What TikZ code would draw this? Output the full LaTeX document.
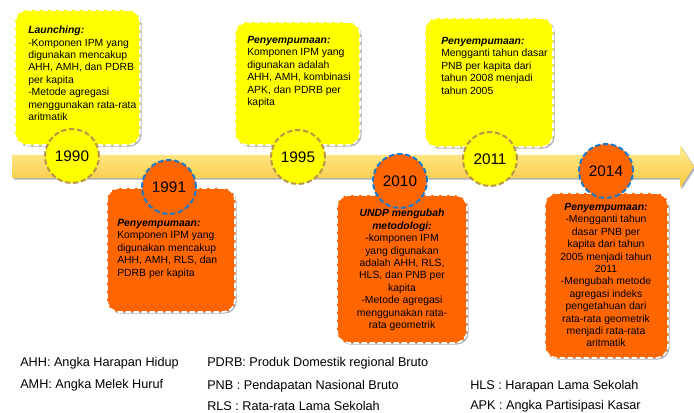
\documentclass[tikz,border=0pt]{standalone}
\usepackage{fontspec}
\setmainfont{Liberation Sans}
\usetikzlibrary{fit,shadows}
\definecolor{ipmkuning}{RGB}{255,255,0}
\definecolor{ipmoranye}{RGB}{255,102,0}
\definecolor{ipmemas}{RGB}{184,150,70}
\definecolor{ipmbiru}{RGB}{30,120,200}
\definecolor{pitaatas}{RGB}{255,238,150}
\definecolor{pitabawah}{RGB}{248,198,60}
\begin{document}
\begin{tikzpicture}[x=0.75pt,y=-0.75pt,
  bayang/.style={drop shadow={shadow xshift=1.2pt, shadow yshift=-1.2pt, opacity=0.3, fill=black}},
  kotak/.style={draw=white, line width=1.2pt, dash pattern=on 4pt off 2pt, rounded corners=9pt, inner sep=0pt, bayang},
  kotakatas/.style={kotak, fill=ipmkuning},
  kotakbawah/.style={kotak, fill=ipmoranye},
  isi/.style={inner sep=0pt, font=\fontsize{7.8}{9.3}\selectfont},
  tahun/.style={circle, minimum size=40.5pt, inner sep=0pt, line width=1.5pt, dash pattern=on 4pt off 2pt, font=\fontsize{11.5}{13}\selectfont},
  tahunatas/.style={tahun, draw=ipmemas, fill=ipmkuning},
  tahunbawah/.style={tahun, draw=ipmbiru, fill=ipmoranye},
  ket/.style={anchor=west, inner sep=0pt, font=\fontsize{9.5}{11}\selectfont}]

\useasboundingbox (0,0) rectangle (694,413);

\shade[top color=pitaatas, bottom color=pitabawah, bayang] (12,155) -- (680,155) -- (680,145) -- (694,166.5) -- (680,188) -- (680,178) -- (12,178) -- cycle;

\node[kotakatas, fit={(15,10) (140,145)}] (box1990) {};
\node[kotakatas, fit={(235,22) (360,145)}] (box1995) {};
\node[kotakatas, fit={(425,18) (553,147)}] (box2011) {};
\node[kotakbawah, fit={(107,188) (235,312)}] (box1991) {};
\node[kotakbawah, fit={(337,195) (467,343)}] (box2010) {};
\node[kotakbawah, fit={(545,193) (668,358)}] (box2014) {};

\path (72,156) node[tahunatas] (th1990) {1990};
\path (298,157) node[tahunatas] (th1995) {1995};
\path (490,159) node[tahunatas] (th2011) {2011};
\path (169,187) node[tahunbawah] (th1991) {1991};
\path (400,181) node[tahunbawah] (th2010) {2010};
\path (606,171) node[tahunbawah] (th2014) {2014};

\path (28,26) node[isi, anchor=north west, align=left] (teks1990) {\textbf{\textit{Launching:}}\\-Komponen IPM yang\\digunakan mencakup\\AHH, AMH, dan PDRB\\per kapita\\-Metode agregasi\\menggunakan rata-rata\\aritmatik};
\path (247,36) node[isi, anchor=north west, align=left] (teks1995) {\textbf{\textit{Penyempumaan:}}\\Komponen IPM yang\\digunakan adalah\\AHH, AMH, kombinasi\\APK, dan PDRB per\\kapita};
\path (441,37) node[isi, anchor=north west, align=left] (teks2011) {\textbf{\textit{Penyempumaan:}}\\Mengganti tahun dasar\\PNB per kapita dari\\tahun 2008 menjadi\\tahun 2005};
\path (117,219) node[isi, anchor=north west, align=left] (teks1991) {\textbf{\textit{Penyempumaan:}}\\Komponen IPM yang\\digunakan mencakup\\AHH, AMH, RLS, dan\\PDRB per kapita};
\path (402,209) node[isi, anchor=north, align=center] (teks2010) {\textbf{\textit{UNDP mengubah}}\\\textbf{\textit{metodologi:}}\\-komponen IPM\\yang digunakan\\adalah AHH, RLS,\\HLS, dan PNB per\\kapita\\-Metode agregasi\\menggunakan rata-\\rata geometrik};
\path (606,203) node[isi, anchor=north, align=center] (teks2014) {\textbf{\textit{Penyempumaan:}}\\-Mengganti tahun\\dasar PNB per\\kapita dari tahun\\2005 menjadi tahun\\2011\\-Mengubah metode\\agregasi indeks\\pengetahuan dari\\rata-rata geometrik\\menjadi rata-rata\\aritmatik};

\path (20,363) node[ket] (ahh) {AHH: Angka Harapan Hidup};
\path (20,385) node[ket] (amh) {AMH: Angka Melek Huruf};
\path (207,363) node[ket] (pdrb) {PDRB: Produk Domestik regional Bruto};
\path (207,386) node[ket] (pnb) {PNB : Pendapatan Nasional Bruto};
\path (207,406) node[ket] (rls) {RLS : Rata-rata Lama Sekolah};
\path (470,386) node[ket] (hls) {HLS : Harapan Lama Sekolah};
\path (470,406) node[ket] (apk) {APK : Angka Partisipasi Kasar};

\end{tikzpicture}
\end{document}
